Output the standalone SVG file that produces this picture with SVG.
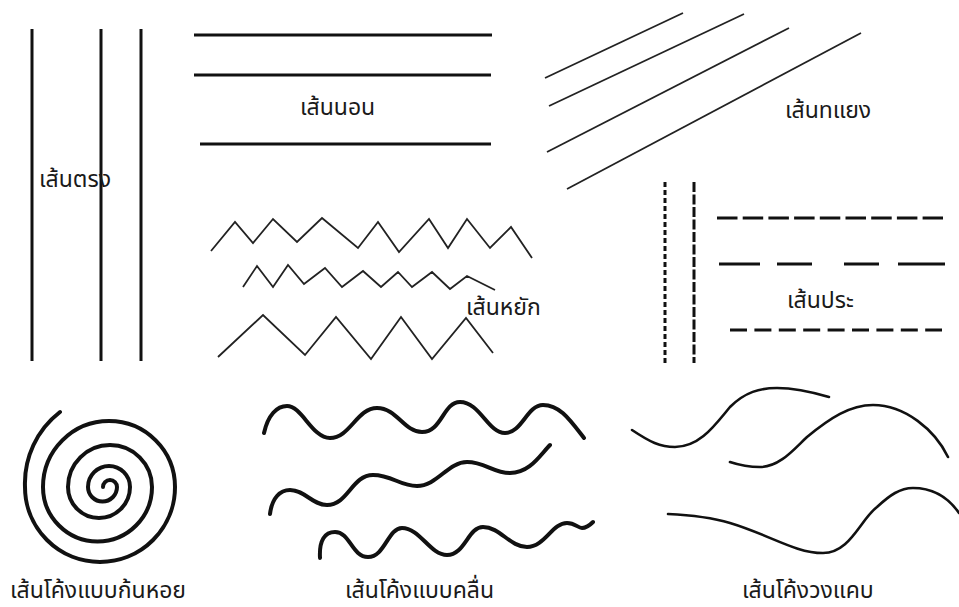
<svg xmlns="http://www.w3.org/2000/svg" width="959" height="607" viewBox="0 0 959 607">
<style>
.bg{fill:#ffffff}
.thick{stroke:#111;stroke-width:3;fill:none;stroke-linecap:butt}
.thin{stroke:#222;stroke-width:1.8;fill:none}
.zig{stroke:#222;stroke-width:1.8;fill:none;stroke-linejoin:miter}
.dash{stroke:#111;stroke-width:3;fill:none}
.wave{stroke:#111;stroke-width:4;fill:none;stroke-linecap:round;stroke-linejoin:round}
.curve{stroke:#111;stroke-width:2.6;fill:none;stroke-linecap:round}
.lbl{font-family:"Noto Sans Thai","Noto Sans","DejaVu Sans",sans-serif;font-size:23px;fill:#1a1a1a}
</style>
<rect class="bg" x="0" y="0" width="959" height="607"/>
<g id="straight">
<line class="thick" x1="32" y1="29" x2="32" y2="361"/>
<line class="thick" x1="101" y1="29" x2="101" y2="361"/>
<line class="thick" x1="141" y1="29" x2="141" y2="361"/>
<text class="lbl" x="39" y="187">เส้นตรง</text>
</g>
<g id="horizontal">
<line class="thick" x1="194" y1="35" x2="492" y2="35"/>
<line class="thick" x1="194" y1="75" x2="491" y2="75"/>
<line class="thick" x1="200" y1="144" x2="491" y2="144"/>
<text class="lbl" x="300" y="115">เส้นนอน</text>
</g>
<g id="diagonal">
<line class="thin" x1="545" y1="78" x2="683" y2="13"/>
<line class="thin" x1="549" y1="106" x2="744" y2="14"/>
<line class="thin" x1="547" y1="152" x2="789" y2="28"/>
<line class="thin" x1="567" y1="189" x2="861" y2="33"/>
<text class="lbl" x="785" y="118">เส้นทแยง</text>
</g>
<g id="zigzag">
<polyline class="zig" points="211,251 235,222 253,243 273,219 297,242 322,218 358,248 378,222 399,252 429,219 448,248 467,219 490,248 511,227 532,258"/>
<polyline class="zig" points="243,287 257,266 273,287 288,265 304,284 325,268 342,287 363,271 381,287 398,272 412,287 432,272 450,289 467,276 495,290"/>
<polyline class="zig" points="218,357 263,315 305,355 336,317 371,359 401,317 432,359 466,318 493,353"/>
<text class="lbl" x="466" y="315">เส้นหยัก</text>
</g>
<g id="dashed">
<line class="dash" x1="665" y1="182" x2="665" y2="363" stroke-dasharray="5 3"/>
<line class="dash" x1="694" y1="182" x2="694" y2="363" stroke-dasharray="10 2.5"/>
<line class="dash" x1="717" y1="218" x2="943" y2="218" stroke-dasharray="20.5 5.2"/>
<line class="dash" x1="719" y1="264" x2="945" y2="264" stroke-dasharray="41 17 35 32 35 19 47"/>
<line class="dash" x1="730" y1="330" x2="942" y2="330" stroke-dasharray="17 7.4"/>
<text class="lbl" x="787" y="308">เส้นประ</text>
</g>
<g id="spiral">
<path class="wave" d="M103,487 A7,7 0 0 1 117,487 A14.5,14.5 0 0 1 88,487 A21,21 0 0 1 130,487 A31,31 0 0 1 68,487 A42,42 0 0 1 152,487 A54.5,54.5 0 0 1 43,487 A66,66 0 0 1 175,487 A75,75 0 0 1 25,487 A90,90 0 0 1 60,412"/>
<text class="lbl" x="10" y="598">เส้นโค้งแบบก้นหอย</text>
</g>
<g id="wave">
<path class="wave" d="M264,433 C268,415 277,406 287,406 C302,406 312,438 330,438 C350,438 357,408 377,408 C397,408 404,432 422,432 C442,432 443,402 460,402 C480,402 488,433 505,433 C522,433 527,405 543,405 C560,405 570,420 584,438"/>
<path class="wave" d="M270,514 C272,498 280,490 290,490 C305,490 312,505 327,505 C348,505 352,475 373,475 C392,475 400,486 417,486 C437,486 448,462 467,462 C485,462 493,473 510,473 C530,473 540,455 550,445"/>
<path class="wave" d="M320,558 C319,540 325,532 335,532 C350,532 352,557 368,557 C385,557 388,528 402,528 C420,528 430,555 447,555 C465,555 468,527 483,527 C500,527 510,547 527,547 C545,547 552,523 567,523 C575,523 578,528 582,528 C587,528 590,525 593,522"/>
<text class="lbl" x="345" y="598">เส้นโค้งแบบคลื่น</text>
</g>
<g id="narrow-curve">
<path class="curve" d="M632,430 C650,442 660,447 675,447 C700,447 715,425 730,407 C745,392 760,388 777,388 C795,388 812,392 829,397"/>
<path class="curve" d="M730,462 C742,466 750,467 760,467 C780,467 795,448 807,437 C830,418 850,405 873,405 C905,405 935,430 948,457"/>
<path class="curve" d="M668,514 C690,515 710,517 730,523 C770,535 795,553 823,553 C850,553 860,520 877,507 C890,495 900,488 913,488 C935,488 950,500 959,513"/>
<text class="lbl" x="742" y="598">เส้นโค้งวงแคบ</text>
</g>
</svg>
